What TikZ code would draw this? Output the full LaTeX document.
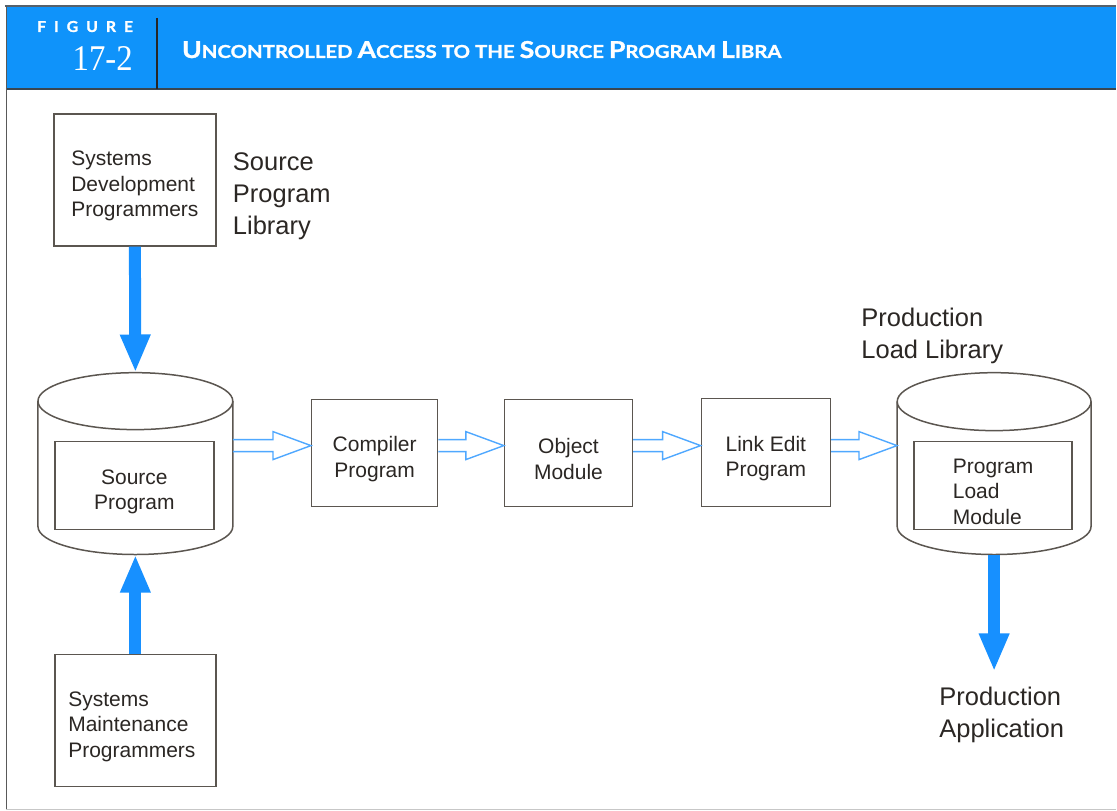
\documentclass[tikz,border=0pt]{standalone}
\usepackage{fontspec}
\setmainfont{Liberation Sans}
\newfontfamily\numfont{Liberation Serif}
\newfontfamily\headfont{Lato}[FakeBold=1.2]
\usetikzlibrary{arrows.meta,calc}

\definecolor{bandblue}{HTML}{0F93FA}
\definecolor{flowblue}{HTML}{1790FF}
\definecolor{hollowblue}{HTML}{4FA8FF}
\definecolor{edge}{HTML}{5B5650}
\definecolor{ink}{HTML}{2B2724}
\definecolor{rulegray}{HTML}{56616B}
\definecolor{ruledark}{HTML}{3A4650}

% faked small capitals for the heading
\newcommand\hdbig[1]{{\fontsize{23.5}{24}\selectfont #1}}
\newcommand\hdsmall[1]{{\fontsize{18}{24}\selectfont #1}}
\newcommand\hdgap{\hspace{0.45em}}
% taller first line so box texts sit a little lower
\newcommand\lift{\rule{0pt}{27pt}}

% open double-lined arrow between two nodes along the flow row
\newcommand\hollowlink[2]{%
  \draw[hollow] ($(#1.east |- row)+(0,-6)$) -- ($(#2.west |- row)+(-38,-6)$)
    -- ++(0,-8) -- (#2.west |- row) -- ($(#2.west |- row)+(-38,14)$)
    -- ++(0,-8) -- ($(#1.east |- row)+(0,6)$);}

\begin{document}
\begin{tikzpicture}[x=1pt,y=-1pt,
  box/.style={draw=edge,line width=1.5pt,fill=white,text=ink,
    font=\fontsize{21}{25.5}\selectfont,align=center,inner sep=0pt},
  leftbox/.style={box,align=left},
  drum/.style={draw=edge,line width=1.5pt,fill=white},
  caption/.style={text=ink,font=\fontsize{25.5}{32}\selectfont,align=left,inner sep=0pt},
  flow/.style={draw=flowblue,line width=12pt,line cap=butt,
    -{Triangle[width=28pt,length=38pt]}},
  hollow/.style={draw=hollowblue,line width=1.4pt,line join=miter},
  headtext/.style={text=white,inner sep=0pt}]

% page
\fill[white] (0,0) rectangle (1117,811);

% heading band
\fill[bandblue] (6,6) rectangle (1117,89);
\draw[rulegray,line width=2pt] (5,6) -- (1117,6);
\draw[ruledark,line width=2pt] (6,89) -- (1117,89);
\draw[black!85,line width=2pt] (157,18) -- (157,89);
\draw[black!65,line width=1.5pt] (6.5,6) -- (6.5,810);
\draw[black!22,line width=1pt] (6,810.5) -- (1117,810.5);

\node[headtext,anchor=base west] (figword) at (37,32)
  {\resizebox{96pt}{11pt}{\headfont\bfseries F\hspace{0.5em}I\hspace{0.5em}G\hspace{0.5em}U\hspace{0.5em}R\hspace{0.5em}E}};
\node[headtext,anchor=base east] (fignum) at (133,71)
  {\resizebox{60pt}{24pt}{\numfont 17-2}};
\node[headtext,anchor=base west] (title) at (182,58)
  {\resizebox{600pt}{17pt}{\headfont\bfseries\hdbig{U}\hdsmall{NCONTROLLED}\hdgap\hdbig{A}\hdsmall{CCESS}\hdgap\hdsmall{TO}\hdgap\hdsmall{THE}\hdgap\hdbig{S}\hdsmall{OURCE}\hdgap\hdbig{P}\hdsmall{ROGRAM}\hdgap\hdbig{L}\hdsmall{IBRA}}};

% row of the compile chain
\coordinate (row) at (0,446);

% source program library drum
\node[inner sep=0,minimum width=195pt,minimum height=182pt] (srclib) at (135.5,464) {};
\draw[drum] (38,401.5) -- (38,527)
  arc[start angle=180,end angle=360,x radius=97.5pt,y radius=28pt] -- (233,401.5);
\draw[drum] (135.5,401.5) ellipse[x radius=97.5pt,y radius=28.5pt];
\node[box,minimum width=159pt,minimum height=88pt] (srcprog) at (134.5,486) {\lift Source\\Program};

% production load library drum
\node[inner sep=0,minimum width=194pt,minimum height=182pt] (prodlib) at (995,464) {};
\draw[drum] (898,402) -- (898,527)
  arc[start angle=180,end angle=360,x radius=97pt,y radius=28pt] -- (1092,402);
\draw[drum] (995,402) ellipse[x radius=97pt,y radius=29pt];
\node[leftbox,minimum width=158pt,minimum height=88pt] (loadmod) at (994,486) {\lift Program\\Load\\Module};

% programmer groups
\node[leftbox,minimum width=162pt,minimum height=132pt] (devprog) at (135,180) {\lift Systems\\Development\\Programmers};
\node[leftbox,minimum width=161pt,minimum height=132pt] (maintprog) at (135.5,721) {\lift Systems\\Maintenance\\Programmers\hspace*{7pt}};

% compile chain
\node[box,minimum width=126pt,minimum height=107pt] (compiler) at (375,453.5) {\lift Compiler\\Program};
\node[box,minimum width=128pt,minimum height=107pt] (objmod) at (569,453.5) {\lift Object\\Module};
\node[box,minimum width=129pt,minimum height=108pt] (linkedit) at (766.5,453) {\lift Link Edit\\Program};

% captions
\node[caption,anchor=west] (srclbl) at (233,196.5) {Source\\Program\\Library};
\node[caption,anchor=west] (prodlbl) at (862,336.5) {Production\\Load Library};
\node[caption,anchor=west] (applbl) at (940,716) {Production\\Application};
\coordinate (appin) at (995,672);

% access arrows
\draw[flow] (devprog.south) -- (srclib.north);
\draw[flow] (maintprog.north) -- (srclib.south);
\draw[flow] (prodlib.south) -- (appin);

% compile chain arrows
\hollowlink{srclib}{compiler}
\hollowlink{compiler}{objmod}
\hollowlink{objmod}{linkedit}
\hollowlink{linkedit}{prodlib}
\end{tikzpicture}
\end{document}
